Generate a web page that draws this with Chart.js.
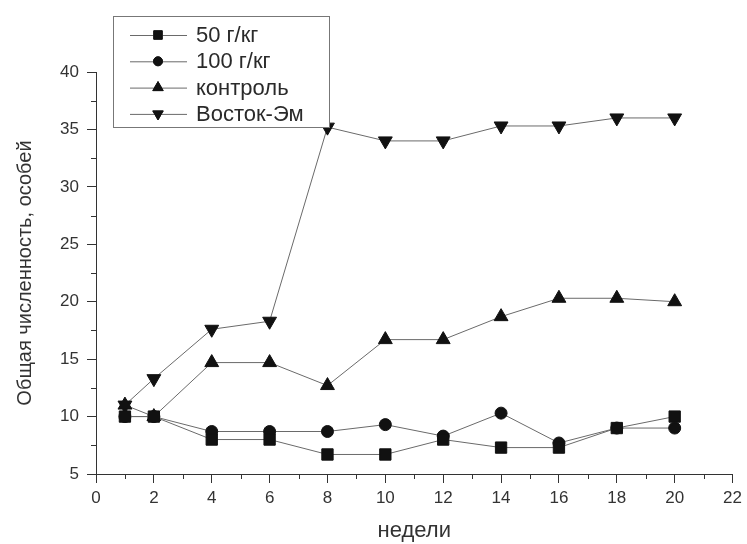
<!DOCTYPE html>
<html>
<head>
<meta charset="utf-8">
<script src="https://cdn.jsdelivr.net/npm/chart.js@4/dist/chart.umd.min.js"></script>
<style>
  html, body { margin: 0; padding: 0; background: #fff; }
  #wrap { width: 747px; height: 544px; }
</style>
</head>
<body>
<div id="wrap"><canvas id="chart"></canvas></div>
<script>
// недели
var weeks = [1, 2, 4, 6, 8, 10, 12, 14, 16, 18, 20];
// общая численность по вариантам
var dose50 = [10, 10, 8, 8, 6.7, 6.7, 8, 7.3, 7.3, 9, 10];
var dose100 = [10, 10, 8.7, 8.7, 8.7, 9.3, 8.3, 10.3, 7.7, 9, 9];
var control = [11, 10, 14.7, 14.7, 12.7, 16.7, 16.7, 18.7, 20.3, 20.3, 20];
var vostok = [11, 13.3, 17.6, 18.3, 35.2, 34, 34, 35.3, 35.3, 36, 36];
var seriesNames = ['50 г/кг', '100 г/кг', 'контроль', 'Восток-Эм'];

function toXY(vals) {
    return weeks.map(function (w, i) { return { x: w, y: vals[i] }; });
}

function makeSet(label, vals, style, radius, rot) {
    return {
        label: label,
        data: toXY(vals),
        borderColor: '#6a6a6a',
        borderWidth: 1,
        pointStyle: style,
        pointRadius: radius,
        pointRotation: rot || 0,
        pointBackgroundColor: '#111',
        pointBorderColor: '#111',
        pointBorderWidth: 1,
        tension: 0
    };
}

// minor ticks, same as the origin-style axes
var minorTicks = {
    id: 'minorTicks',
    afterDraw: function (chart) {
        var ctx = chart.ctx, xs = chart.scales.x, ys = chart.scales.y;
        ctx.save();
        ctx.strokeStyle = '#333';
        ctx.lineWidth = 1;
        ctx.beginPath();
        for (var v = 1; v < 22; v += 2) {
            var px = Math.round(xs.getPixelForValue(v)) + 0.5;
            ctx.moveTo(px, ys.bottom);
            ctx.lineTo(px, ys.bottom + 5);
        }
        for (var u = 7.5; u < 40; u += 5) {
            var py = Math.round(ys.getPixelForValue(u)) + 0.5;
            ctx.moveTo(xs.left, py);
            ctx.lineTo(xs.left - 5, py);
        }
        ctx.stroke();
        ctx.restore();
    }
};

// legend box inside the plot (top left)
var boxLegend = {
    id: 'boxLegend',
    afterDraw: function (chart) {
        var ctx = chart.ctx;
        var bx = 113, by = 16, bw = 216, bh = 111;
        ctx.save();
        ctx.fillStyle = '#fff';
        ctx.fillRect(bx, by, bw, bh);
        ctx.strokeStyle = '#777';
        ctx.lineWidth = 1;
        ctx.strokeRect(bx + 0.5, by + 0.5, bw, bh);
        ctx.font = '22px "Liberation Sans", Arial, sans-serif';
        ctx.textBaseline = 'middle';
        chart.data.datasets.forEach(function (ds, i) {
            var y = 35 + i * 26.3;
            ctx.strokeStyle = '#6a6a6a';
            ctx.beginPath();
            ctx.moveTo(130, y + 0.5);
            ctx.lineTo(187, y + 0.5);
            ctx.stroke();
            Chart.helpers.drawPoint(ctx, {
                pointStyle: ds.pointStyle,
                rotation: ds.pointRotation,
                radius: ds.pointRadius * 0.75,
                borderWidth: 1
            }, 158, y);
            ctx.fillStyle = '#111';
            ctx.strokeStyle = '#111';
            ctx.fill();
            ctx.stroke();
            ctx.fillStyle = '#2a2a2a';
            ctx.fillText(ds.label, 196, y + 1);
        });
        ctx.restore();
    }
};

Chart.defaults.font.family = '"Liberation Sans", Arial, sans-serif';
Chart.defaults.color = '#333';

new Chart(document.getElementById('chart'), {
    type: 'line',
    data: {
        datasets: [
            makeSet(seriesNames[0], dose50, 'rect', 8),
            makeSet(seriesNames[1], dose100, 'circle', 6),
            makeSet(seriesNames[2], control, 'triangle', 8),
            makeSet(seriesNames[3], vostok, 'triangle', 8, 180)
        ]
    },
    options: {
        responsive: true,
        maintainAspectRatio: false,
        animation: false,
        layout: { padding: { top: 72, right: 10, left: 0, bottom: 0 } },
        plugins: {
            legend: { display: false },
            tooltip: { enabled: false }
        },
        scales: {
            x: {
                type: 'linear',
                min: 0,
                max: 22,
                ticks: { stepSize: 2, font: { size: 17 }, padding: 5, maxRotation: 0 },
                grid: { drawOnChartArea: false, drawTicks: true, tickLength: 9, color: '#333' },
                border: { color: '#333', width: 1 },
                title: { display: true, text: 'недели', font: { size: 22 }, padding: { top: 0, bottom: 0 } },
                afterFit: function (s) { s.height = 70; }
            },
            y: {
                min: 5,
                max: 40,
                ticks: { stepSize: 5, font: { size: 17 }, padding: 8 },
                grid: { drawOnChartArea: false, drawTicks: true, tickLength: 9, color: '#333' },
                border: { color: '#333', width: 1 },
                title: { display: true, text: 'Общая численность, особей', font: { size: 20 }, padding: { top: 13, bottom: 0 } },
                afterFit: function (s) { s.width = 96; }
            }
        }
    },
    plugins: [minorTicks, boxLegend]
});
</script>
</body>
</html>
